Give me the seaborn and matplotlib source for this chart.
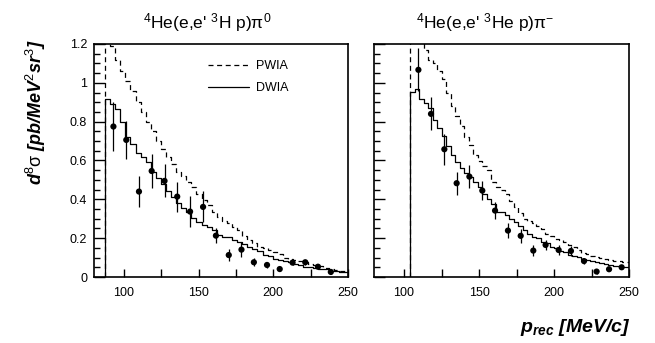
import numpy as np
import pandas as pd
import seaborn as sns
import matplotlib
matplotlib.use("Agg")
import matplotlib.pyplot as plt
from matplotlib.ticker import MultipleLocator, FuncFormatter

# model histograms: first bin edge and bin width (MeV/c), then bin contents
left_start, left_width = 87.4, 3.4
right_start, right_width = 104.0, 3.0

pwia_left = [1.25, 1.19, 1.12, 1.06, 1.01, 0.96, 0.90, 0.85, 0.80, 0.75, 0.70, 0.66,
             0.62, 0.58, 0.54, 0.52, 0.49, 0.465, 0.43, 0.397, 0.37, 0.337, 0.31, 0.289,
             0.28, 0.256, 0.24, 0.21, 0.19, 0.175, 0.156, 0.15, 0.14, 0.13, 0.12, 0.10,
             0.095, 0.088, 0.08, 0.075, 0.068, 0.062, 0.055, 0.045, 0.043, 0.035, 0.033, 0.033]
dwia_left = [0.916, 0.892, 0.864, 0.80, 0.723, 0.686, 0.638, 0.617, 0.594, 0.543, 0.509, 0.48,
             0.443, 0.414, 0.38, 0.355, 0.337, 0.302, 0.285, 0.27, 0.26, 0.242, 0.216, 0.204,
             0.204, 0.19, 0.18, 0.168, 0.155, 0.145, 0.135, 0.115, 0.108, 0.095, 0.09, 0.08,
             0.075, 0.065, 0.06, 0.052, 0.05, 0.045, 0.042, 0.04, 0.033, 0.03, 0.027, 0.025]

pwia_right = [1.30, 1.25, 1.22, 1.17, 1.12, 1.10, 1.06, 1.02, 0.95, 0.88, 0.83, 0.78,
              0.72, 0.68, 0.63, 0.60, 0.57, 0.55, 0.49, 0.465, 0.45, 0.43, 0.39, 0.36,
              0.33, 0.30, 0.29, 0.28, 0.265, 0.245, 0.22, 0.21, 0.195, 0.19, 0.18, 0.165,
              0.155, 0.14, 0.125, 0.12, 0.11, 0.105, 0.10, 0.095, 0.09, 0.08, 0.08, 0.075, 0.075]
dwia_right = [0.955, 0.967, 0.916, 0.895, 0.87, 0.809, 0.766, 0.727, 0.675, 0.629, 0.594, 0.563,
              0.535, 0.517, 0.49, 0.465, 0.43, 0.40, 0.375, 0.337, 0.337, 0.32, 0.30, 0.285,
              0.262, 0.24, 0.222, 0.205, 0.20, 0.18, 0.174, 0.155, 0.15, 0.135, 0.13, 0.115,
              0.11, 0.105, 0.095, 0.088, 0.082, 0.075, 0.07, 0.065, 0.062, 0.058, 0.055, 0.05, 0.05]

# measured points
p_left = [93.0, 101.6, 110.1, 118.6, 127.2, 135.7, 144.3, 153.0, 161.6, 170.2, 178.7, 187.0,
          195.8, 204.3, 212.9, 221.4, 229.9, 238.5]
xs_left = [0.775, 0.706, 0.44, 0.546, 0.495, 0.414, 0.337, 0.361, 0.213, 0.113, 0.141, 0.076,
           0.062, 0.041, 0.074, 0.076, 0.053, 0.026]
err_left = [0.125, 0.10, 0.08, 0.09, 0.085, 0.077, 0.08, 0.08, 0.04, 0.03, 0.04, 0.02,
            0.015, 0.012, 0.012, 0.012, 0.01, 0.008]

p_right = [109.6, 118.0, 126.9, 135.1, 143.6, 152.2, 160.7, 169.3, 177.8, 186.2, 194.4, 203.1,
           211.3, 220.0, 228.4, 236.7, 245.1]
xs_right = [1.067, 0.84, 0.658, 0.483, 0.517, 0.445, 0.342, 0.239, 0.212, 0.136, 0.165, 0.139,
            0.134, 0.082, 0.028, 0.04, 0.05]
err_right = [0.11, 0.085, 0.08, 0.06, 0.06, 0.05, 0.045, 0.04, 0.035, 0.03, 0.025, 0.025,
             0.025, 0.015, 0.01, 0.01, 0.01]

sns.set_style("white")
plt.rcParams["font.family"] = ["Liberation Sans", "DejaVu Sans"]
plt.rcParams["mathtext.fontset"] = "custom"
plt.rcParams["mathtext.rm"] = "Liberation Sans"
plt.rcParams["mathtext.it"] = "Liberation Sans:italic:bold"
plt.rcParams["mathtext.bf"] = "Liberation Sans:bold"
plt.rcParams["lines.scale_dashes"] = False
for k in ("text.color", "axes.labelcolor", "xtick.color", "ytick.color"):
    plt.rcParams[k] = "black"

W, H = 655, 343
fig = plt.figure(figsize=(W / 100, H / 100), dpi=100)
ax1 = fig.add_axes([94 / W, 1 - 277 / H, 254 / W, 233 / H])
ax2 = fig.add_axes([374 / W, 1 - 277 / H, 255 / W, 233 / H])


def draw_hist(ax, start, width, vals, dashed, label):
    edges = start + width * np.arange(len(vals) + 1)
    df = pd.DataFrame({"p": np.concatenate([[start], edges]),
                       "xs": np.concatenate([[0.0], vals, [vals[-1]]])})
    sns.lineplot(data=df, x="p", y="xs", estimator=None, sort=False,
                 drawstyle="steps-post", color="black", lw=0.9,
                 linestyle=(0, (3.6, 2.6)) if dashed else "-",
                 label=label, legend=label is not None, ax=ax)


def draw_points(ax, p, xs, err):
    ax.errorbar(p, xs, yerr=err, fmt="none", ecolor="black", elinewidth=0.9, capsize=0)
    sns.scatterplot(x=p, y=xs, color="black", s=20, edgecolor="none", ax=ax, zorder=3)


draw_hist(ax1, left_start, left_width, pwia_left, True, "PWIA")
draw_hist(ax1, left_start, left_width, dwia_left, False, "DWIA")
draw_points(ax1, p_left, xs_left, err_left)

draw_hist(ax2, right_start, right_width, pwia_right, True, None)
draw_hist(ax2, right_start, right_width, dwia_right, False, None)
draw_points(ax2, p_right, xs_right, err_right)

for ax in (ax1, ax2):
    ax.set_xlim(80, 250)
    ax.set_ylim(0, 1.2)
    ax.set_xlabel("")
    ax.set_ylabel("")
    ax.xaxis.set_major_locator(MultipleLocator(50))
    ax.xaxis.set_minor_locator(MultipleLocator(25))
    ax.yaxis.set_major_locator(MultipleLocator(0.2))
    ax.yaxis.set_minor_locator(MultipleLocator(0.05))
    ax.yaxis.set_major_formatter(FuncFormatter(lambda v, pos: f"{v:g}"))
    ax.tick_params(axis="x", which="both", direction="in", length=5.5, width=1,
                   bottom=True, top=False, pad=7, labelsize=9)
    ax.tick_params(axis="y", which="major", direction="in", length=8, width=1,
                   left=True, right=False, pad=5, labelsize=9)
    ax.tick_params(axis="y", which="minor", direction="in", length=4, width=1,
                   left=True, right=False)
    for s in ax.spines.values():
        s.set_linewidth(1.2)
        s.set_color("black")

ax2.tick_params(axis="y", labelleft=False)

ax1.legend(frameon=False, loc="upper left", bbox_to_anchor=(0.449, 0.93),
           borderaxespad=0, borderpad=0, fontsize=9, handlelength=3.3,
           handletextpad=0.5, labelspacing=0.8)

fig.text(207 / W, 1 - 28 / H, r"$^{4}$He(e,e' $^{3}$H p)$\mathrm{\pi}^{0}$",
         ha="center", va="baseline", fontsize=12.5)
fig.text(485 / W, 1 - 28 / H, r"$^{4}$He(e,e' $^{3}$He p)$\mathrm{\pi}^{-}$",
         ha="center", va="baseline", fontsize=12.5)

fig.text(36 / W, 1 - 112 / H,
         r"d$^{\mathit{8}}$$\mathrm{\sigma}$ [pb/MeV$^{\mathit{2}}$sr$^{\mathit{3}}$]",
         rotation=90, ha="center", va="center", fontsize=13,
         fontweight="bold", fontstyle="italic")
fig.text(631 / W, 1 - 327 / H, r"p$_{\mathit{rec}}$ [MeV/c]",
         ha="right", va="center", fontsize=14, fontweight="bold", fontstyle="italic")

fig.savefig("out.png", dpi=100)
